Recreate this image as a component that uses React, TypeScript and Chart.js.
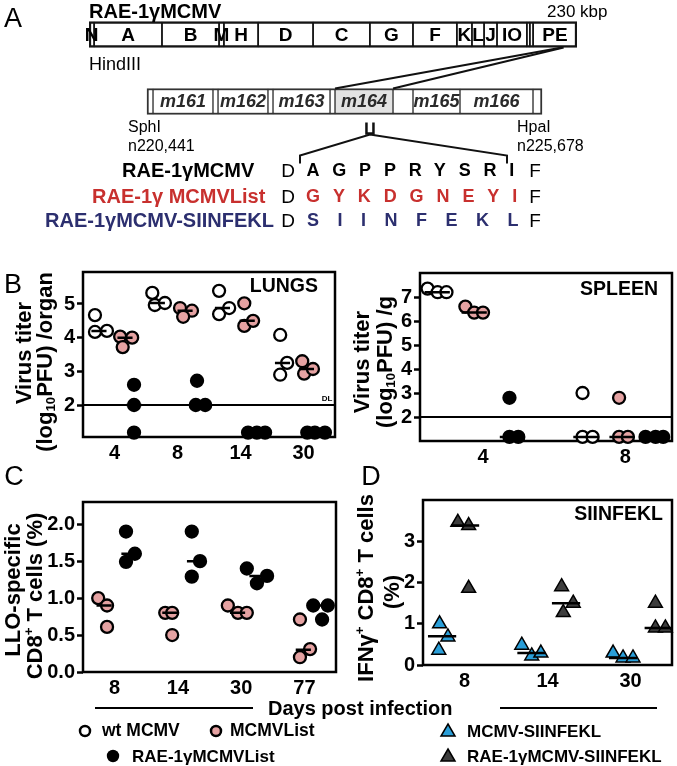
import React, { useEffect, useRef } from 'react';
import { Chart, registerables } from 'chart.js';
Chart.register(...registerables);

const FONT = '"Liberation Sans", Arial, Helvetica, sans-serif';
const PINK = '#e5a2a2';
const BLUE = '#2a9ed8';
const DARK = '#3d3d3d';
const RED = '#c8302e';
const NAVY = '#2c2f6f';

// ---------------- Panel A data ----------------
const hindIIILabels = ['N', 'A', 'B', 'M', 'H', 'D', 'C', 'G', 'F', 'K', 'L', 'J', 'IO', '', '', 'PE'];
const hindIIIBounds = [0, 2.4, 34.4, 61.3, 63.6, 79.7, 105.6, 132.4, 152.7, 173.4, 180.5, 186.2, 192.3, 206.4, 207.8, 209.3, 230];
const geneLabels = ['', 'm161', '', 'm162', '', 'm163', '', 'm164', '', 'm165', 'm166', ''];
const geneBounds = [220.441, 220.521, 221.316, 221.383, 222.045, 222.112, 222.868, 222.934, 223.703, 223.968, 224.591, 225.559, 225.678];
const highlightedGene = 'm164';
const insertionSite = 223.397;

const seqNames = ['RAE-1γMCMV', 'RAE-1γ MCMVList', 'RAE-1γMCMV-SIINFEKL'];
const seqInserts = ['AGPPRYSRI', 'GYKDGNEYI', 'SIINFEKL'];
const seqFlankLeft = 'D';
const seqFlankRight = 'F';

// ---------------- Panel B: LUNGS ----------------
const lungsDays = ['4', '8', '14', '30'];
const lungsTicks = [2, 3, 4, 5];
const lungsWt = [[4.67, 4.17, 4.2], [5.33, 4.97, 5.03], [5.39, 4.7, 4.88], [4.08, 2.9, 3.25]];
const lungsWtX = [[-0.31, -0.31, -0.12], [-0.4, -0.36, -0.2], [-0.34, -0.34, -0.18], [-0.37, -0.37, -0.26]];
const lungsWtMed = [4.2, 5.03, 4.88, 3.25];
const lungsList = [[4.03, 4.0, 3.72], [4.88, 4.8, 4.62], [5.02, 4.35, 4.5], [3.3, 2.93, 3.07]];
const lungsListX = [[0.09, 0.28, 0.13], [0.04, 0.23, 0.09], [0.06, 0.06, 0.2], [-0.02, 0.01, 0.15]];
const lungsListMed = [4.0, 4.8, 4.5, 3.07];
const lungsRae = [[2.6, 2.0, 1.18], [2.72, 2.0, 2.0], [1.18, 1.18, 1.18], [1.18, 1.18, 1.18]];
const lungsRaeX = [[0.31, 0.31, 0.31], [0.31, 0.29, 0.44], [0.12, 0.26, 0.39], [0.06, 0.18, 0.34]];
const lungsRaeMed = [2.0, 2.0, 1.18, 1.18];

// ---------------- Panel B: SPLEEN ----------------
const spleenDays = ['4', '8'];
const spleenTicks = [2, 3, 4, 5, 6, 7];
const spleenWt = [[7.35, 7.2, 7.2], [3.0, 1.17, 1.17]];
const spleenWtX = [[-0.44, -0.36, -0.29], [-0.21, -0.21, -0.13]];
const spleenWtMed = [7.2, 1.17];
const spleenList = [[6.6, 6.35, 6.35], [2.8, 1.17, 1.17]];
const spleenListX = [[-0.14, -0.07, 0.0], [0.08, 0.08, 0.15]];
const spleenListMed = [6.35, 1.17];
const spleenRae = [[2.8, 1.17, 1.17], [1.17, 1.17, 1.17]];
const spleenRaeX = [[0.21, 0.21, 0.28], [0.29, 0.37, 0.43]];
const spleenRaeMed = [1.17, 1.17];

// ---------------- Panel C ----------------
const cDays = ['8', '14', '30', '77'];
const cTicks = [0, 0.5, 1, 1.5, 2];
const cTickLabels = ['0.0', '0.5', '1.0', '1.5', '2.0'];
const cList = [[1.0, 0.9, 0.61], [0.8, 0.8, 0.5], [0.9, 0.8, 0.8], [0.71, 0.31, 0.2]];
const cListX = [[-0.26, -0.12, -0.12], [-0.2, -0.09, -0.09], [-0.21, -0.05, 0.09], [-0.07, 0.09, -0.07]];
const cListMed = [0.9, 0.8, 0.8, 0.3];
const cRae = [[1.9, 1.6, 1.49], [1.9, 1.5, 1.29], [1.4, 1.2, 1.3], [0.9, 0.9, 0.71]];
const cRaeX = [[0.18, 0.32, 0.18], [0.22, 0.35, 0.22], [0.09, 0.25, 0.41], [0.14, 0.37, 0.28]];
const cRaeMed = [1.6, 1.5, 1.3, 0.9];

// ---------------- Panel D ----------------
const dDays = ['8', '14', '30'];
const dTicks = [0, 1, 2, 3];
const dMcmv = [[1.0, 0.68, 0.36], [0.48, 0.22, 0.29], [0.29, 0.17, 0.17]];
const dMcmvX = [[-0.3, -0.2, -0.31], [-0.31, -0.19, -0.08], [-0.21, -0.09, 0.03]];
const dMcmvMed = [0.7, 0.29, 0.17];
const dRae = [[3.46, 3.38, 1.86], [1.9, 1.5, 1.27], [1.5, 0.9, 0.9]];
const dRaeX = [[-0.08, 0.05, 0.05], [0.17, 0.31, 0.19], [0.3, 0.3, 0.42]];
const dRaeMed = [3.38, 1.5, 0.9];

// ---------------- Chart builders ----------------
const mapPlugin = {
  id: 'mapLabels',
  afterDatasetsDraw(chart: any) {
    const ctx = chart.ctx;
    const g = chart.getDatasetMeta(0);
    const m = chart.getDatasetMeta(1);
    ctx.save();
    ctx.textAlign = 'center';
    ctx.textBaseline = 'middle';
    ctx.fillStyle = '#000';
    ctx.font = `bold 19px ${FONT}`;
    g.data.forEach((el: any, i: number) => {
      const p = el.getProps(['x', 'base', 'y'], true);
      if (hindIIILabels[i]) ctx.fillText(hindIIILabels[i], (p.x + p.base) / 2, p.y + 1);
    });
    ctx.font = `italic bold 18px ${FONT}`;
    ctx.fillStyle = '#2a2a2a';
    m.data.forEach((el: any, i: number) => {
      const p = el.getProps(['x', 'base', 'y'], true);
      if (geneLabels[i]) ctx.fillText(geneLabels[i], (p.x + p.base) / 2, p.y + 1);
    });
    // zoom lines
    const xs = chart.scales.x;
    const x2 = chart.scales.x2;
    const gp = g.data[0].getProps(['y', 'height'], true);
    const mp = m.data[0].getProps(['y', 'height'], true);
    const gBottom = gp.y + gp.height / 2;
    const mTop = mp.y - mp.height / 2;
    const mBottom = mp.y + mp.height / 2;
    const hi = geneLabels.indexOf(highlightedGene);
    ctx.strokeStyle = '#111';
    ctx.lineWidth = 2;
    [geneBounds[hi], geneBounds[hi + 1]].forEach((v) => {
      ctx.beginPath();
      ctx.moveTo(xs.getPixelForValue(v), gBottom);
      ctx.lineTo(x2.getPixelForValue(v), mTop);
      ctx.stroke();
    });
    // insertion marker and bracket
    const ix = x2.getPixelForValue(insertionSite);
    ctx.lineWidth = 2.5;
    ctx.beginPath();
    ctx.moveTo(ix - 3.5, mBottom + 8);
    ctx.lineTo(ix - 3.5, mBottom + 19);
    ctx.lineTo(ix + 3.5, mBottom + 19);
    ctx.lineTo(ix + 3.5, mBottom + 8);
    ctx.stroke();
    ctx.lineWidth = 2;
    const apexY = mBottom + 20;
    const endY = mBottom + 41;
    ctx.beginPath();
    ctx.moveTo(300, endY + 8);
    ctx.lineTo(300, endY);
    ctx.lineTo(ix, apexY);
    ctx.lineTo(507, endY);
    ctx.lineTo(507, endY + 8);
    ctx.stroke();
    ctx.restore();
  },
};

function mapConfig(): any {
  const genomeData = hindIIILabels.map((_, i) => ({ x: [hindIIIBounds[i], hindIIIBounds[i + 1]], y: 'genome' }));
  const geneData = geneLabels.map((_, i) => ({ x: [geneBounds[i], geneBounds[i + 1]], y: 'genes' }));
  const nG = genomeData.length;
  const nM = geneData.length;
  return {
    type: 'bar',
    data: {
      labels: ['genome', 'genes'],
      datasets: [
        {
          data: genomeData,
          xAxisID: 'x',
          backgroundColor: '#fff',
          borderColor: '#151515',
          borderWidth: (c: any) => ({ top: 2.5, bottom: 2.5, left: c.dataIndex === 0 ? 2.5 : 1.25, right: c.dataIndex === nG - 1 ? 2.5 : 1.25 }),
          borderSkipped: false,
          barThickness: 26,
          grouped: false,
        },
        {
          data: geneData,
          xAxisID: 'x2',
          backgroundColor: geneLabels.map((l) => (l === highlightedGene ? '#e3e3e3' : '#fff')),
          borderColor: '#333',
          borderWidth: (c: any) => ({ top: 2, bottom: 2, left: c.dataIndex === 0 ? 2 : 1, right: c.dataIndex === nM - 1 ? 2 : 1 }),
          borderSkipped: false,
          barThickness: 26,
          grouped: false,
        },
      ],
    },
    options: {
      indexAxis: 'y',
      responsive: false,
      animation: false,
      events: [],
      layout: { padding: { left: 89, right: 100, top: 1, bottom: 35 }, autoPadding: false },
      plugins: { legend: { display: false }, tooltip: { enabled: false } },
      scales: {
        y: { type: 'category', display: false, offset: true },
        x: { type: 'linear', min: 0, max: 230, display: false },
        x2: { type: 'linear', axis: 'x', min: 219.672, max: 226.142, display: false },
      },
    },
    plugins: [mapPlugin],
  };
}

type Series = { vals: number[][]; xs: number[][]; meds: number[]; fill: string; shape: string; radius: number; bw: number };
type Panel = {
  groups: string[];
  tickShift?: number[];
  series: Series[];
  yMin: number;
  yMax: number;
  yTicks: number[];
  yTickLabels?: string[];
  dl?: number;
  dlText?: string;
  label: string;
  labelDx: number;
  labelDy: number;
  medHalf: number;
  pad: { left: number; right: number; top: number; bottom: number };
};

function scatterConfig(p: Panel): any {
  const n = p.groups.length;
  const datasets: any[] = [];
  p.series.forEach((s) => {
    const data: any[] = [];
    s.meds.forEach((m, g) => {
      const c = g + s.xs[g].reduce((a, b) => a + b, 0) / s.xs[g].length;
      data.push({ x: c - p.medHalf, y: m }, { x: c + p.medHalf, y: m }, { x: c, y: null });
    });
    datasets.push({ type: 'line', data, borderColor: '#000', borderWidth: 2.5, pointRadius: 0, spanGaps: false, clip: false, fill: false });
  });
  [...p.series].reverse().forEach((s) => {
    const data: any[] = [];
    s.vals.forEach((arr, g) => arr.forEach((v, i) => data.push({ x: g + s.xs[g][i], y: v })));
    datasets.push({
      type: 'scatter',
      data,
      pointStyle: s.shape,
      pointRadius: s.radius,
      pointBackgroundColor: s.fill,
      pointBorderColor: '#000',
      pointBorderWidth: s.bw,
      showLine: false,
      clip: false,
    });
  });
  if (p.dl != null) {
    datasets.push({ type: 'line', data: [{ x: -0.5, y: p.dl }, { x: n - 0.5, y: p.dl }], borderColor: '#000', borderWidth: 2, pointRadius: 0, clip: false, fill: false });
  }
  const framePlugin = {
    id: 'frame',
    beforeDatasetsDraw(chart: any) {
      const { ctx, chartArea: a } = chart;
      ctx.save();
      ctx.lineWidth = 2.5;
      ctx.strokeStyle = '#000';
      ctx.strokeRect(a.left, a.top, a.right - a.left, a.bottom - a.top);
      ctx.restore();
    },
    afterDatasetsDraw(chart: any) {
      const { ctx, chartArea: a } = chart;
      ctx.save();
      ctx.fillStyle = '#000';
      ctx.font = `bold 19.5px ${FONT}`;
      ctx.textAlign = 'right';
      ctx.textBaseline = 'middle';
      ctx.fillText(p.label, a.right - p.labelDx, a.top + p.labelDy);
      if (p.dlText && p.dl != null) {
        ctx.font = `bold 8px ${FONT}`;
        ctx.textAlign = 'center';
        ctx.textBaseline = 'bottom';
        ctx.fillText(p.dlText, a.right - 8, chart.scales.y.getPixelForValue(p.dl) - 2);
      }
      ctx.restore();
    },
  };
  const tickFont = { family: FONT, size: 20, weight: 'bold' };
  return {
    type: 'scatter',
    data: { datasets },
    options: {
      responsive: false,
      animation: false,
      events: [],
      layout: { padding: p.pad, autoPadding: false },
      plugins: { legend: { display: false }, tooltip: { enabled: false } },
      scales: {
        x: {
          type: 'linear',
          min: -0.5,
          max: n - 0.5,
          bounds: 'data',
          afterBuildTicks: (s: any) => {
            s.ticks = p.groups.map((_, i) => ({ value: i + (p.tickShift ? p.tickShift[i] : 0) }));
          },
          afterFit: (s: any) => {
            s.height = 30;
          },
          ticks: { callback: (_v: any, i: number) => p.groups[i], font: tickFont, color: '#000', padding: 4, autoSkip: false, maxRotation: 0 },
          grid: { display: false, drawTicks: false },
          border: { display: false },
        },
        y: {
          type: 'linear',
          min: p.yMin,
          max: p.yMax,
          bounds: 'data',
          afterBuildTicks: (s: any) => {
            s.ticks = p.yTicks.map((v) => ({ value: v }));
          },
          afterFit: (s: any) => {
            s.width = 40;
          },
          ticks: {
            callback: (v: any, i: number) => (p.yTickLabels ? p.yTickLabels[i] : String(p.yTicks[i])),
            font: tickFont,
            color: '#000',
            padding: 2,
            autoSkip: false,
          },
          grid: { display: true, drawOnChartArea: false, drawTicks: true, tickLength: 6, tickWidth: 2.5, tickColor: '#000' },
          border: { display: false },
        },
      },
    },
    plugins: [framePlugin],
  };
}

const lungsSpec: Panel = {
  groups: lungsDays,
  series: [
    { vals: lungsWt, xs: lungsWtX, meds: lungsWtMed, fill: '#fff', shape: 'circle', radius: 6, bw: 2.3 },
    { vals: lungsList, xs: lungsListX, meds: lungsListMed, fill: PINK, shape: 'circle', radius: 6, bw: 2.3 },
    { vals: lungsRae, xs: lungsRaeX, meds: lungsRaeMed, fill: '#000', shape: 'circle', radius: 6, bw: 2.3 },
  ],
  yMin: 1.05,
  yMax: 5.95,
  yTicks: lungsTicks,
  dl: 2,
  dlText: 'DL',
  label: 'LUNGS',
  labelDx: 17,
  labelDy: 15,
  medHalf: 0.12,
  pad: { left: 43, right: 10, top: 22, bottom: 3 },
};

const spleenSpec: Panel = {
  groups: spleenDays,
  tickShift: [0, 0.13],
  series: [
    { vals: spleenWt, xs: spleenWtX, meds: spleenWtMed, fill: '#fff', shape: 'circle', radius: 6, bw: 2.3 },
    { vals: spleenList, xs: spleenListX, meds: spleenListMed, fill: PINK, shape: 'circle', radius: 6, bw: 2.3 },
    { vals: spleenRae, xs: spleenRaeX, meds: spleenRaeMed, fill: '#000', shape: 'circle', radius: 6, bw: 2.3 },
  ],
  yMin: 1,
  yMax: 8,
  yTicks: spleenTicks,
  dl: 2,
  label: 'SPLEEN',
  labelDx: 14,
  labelDy: 17,
  medHalf: 0.1,
  pad: { left: 40, right: 5, top: 23, bottom: 4 },
};

const cSpec: Panel = {
  groups: cDays,
  series: [
    { vals: cList, xs: cListX, meds: cListMed, fill: PINK, shape: 'circle', radius: 6, bw: 2.3 },
    { vals: cRae, xs: cRaeX, meds: cRaeMed, fill: '#000', shape: 'circle', radius: 6, bw: 2.3 },
  ],
  yMin: 0,
  yMax: 2.3,
  yTicks: cTicks,
  yTickLabels: cTickLabels,
  label: '',
  labelDx: 0,
  labelDy: 0,
  medHalf: 0.12,
  pad: { left: 43, right: 9, top: 17, bottom: 3 },
};

const dSpec: Panel = {
  groups: dDays,
  series: [
    { vals: dMcmv, xs: dMcmvX, meds: dMcmvMed, fill: BLUE, shape: 'triangle', radius: 8, bw: 1.5 },
    { vals: dRae, xs: dRaeX, meds: dRaeMed, fill: DARK, shape: 'triangle', radius: 8, bw: 1.5 },
  ],
  yMin: 0,
  yMax: 4,
  yTicks: dTicks,
  label: 'SIINFEKL',
  labelDx: 9,
  labelDy: 15,
  medHalf: 0.17,
  pad: { left: 43, right: 5, top: 15, bottom: 10 },
};

// ---------------- HTML helpers ----------------
function T(props: any) {
  const { x, y, size, weight = 'bold', color = '#000', align = 'left', style = {}, children, italic } = props;
  const tx = align === 'left' ? '0' : align === 'center' ? '-50%' : '-100%';
  return (
    <div
      style={{
        position: 'absolute',
        left: x,
        top: y,
        transform: `translate(${tx},-50%)`,
        font: `${italic ? 'italic ' : ''}${weight} ${size}px ${FONT}`,
        color,
        whiteSpace: 'nowrap',
        lineHeight: 1,
        ...style,
      }}
    >
      {children}
    </div>
  );
}

function V(props: any) {
  const { x, y, size = 22, children } = props;
  return (
    <div
      style={{
        position: 'absolute',
        left: x,
        top: y,
        transform: 'translate(-50%,-50%) rotate(-90deg)',
        font: `bold ${size}px ${FONT}`,
        whiteSpace: 'nowrap',
        lineHeight: 1,
        color: '#000',
      }}
    >
      {children}
    </div>
  );
}

const supStyle: any = { fontSize: '0.6em', verticalAlign: '0.7em', lineHeight: 0 };
const subStyle: any = { fontSize: '0.6em', verticalAlign: '-0.25em', lineHeight: 0 };

export default function App() {
  const refA = useRef<HTMLCanvasElement>(null);
  const refL = useRef<HTMLCanvasElement>(null);
  const refS = useRef<HTMLCanvasElement>(null);
  const refC = useRef<HTMLCanvasElement>(null);
  const refD = useRef<HTMLCanvasElement>(null);

  useEffect(() => {
    const charts = [
      new Chart(refA.current as any, mapConfig()),
      new Chart(refL.current as any, scatterConfig(lungsSpec)),
      new Chart(refS.current as any, scatterConfig(spleenSpec)),
      new Chart(refC.current as any, scatterConfig(cSpec)),
      new Chart(refD.current as any, scatterConfig(dSpec)),
    ];
    return () => charts.forEach((c) => c.destroy());
  }, []);

  const seqColors = ['#000', RED, NAVY];
  const seqY = [170, 196, 220];
  const seqLeft = [122, 92, 45];
  const insLeft = [306.5, 306, 307];
  const insSpacing = [12.8, 12.9, 18.5];

  return (
    <div style={{ position: 'absolute', left: 0, top: 0, width: 677, height: 766, background: '#fff', overflow: 'hidden', fontFamily: FONT, color: '#000' }}>
      <canvas ref={refA} width={677} height={170} style={{ position: 'absolute', left: 0, top: 0, width: 677, height: 170 }} />
      <canvas ref={refL} width={345} height={220} style={{ position: 'absolute', left: 0, top: 250, width: 345, height: 220 }} />
      <canvas ref={refS} width={337} height={225} style={{ position: 'absolute', left: 340, top: 250, width: 337, height: 225 }} />
      <canvas ref={refC} width={345} height={220} style={{ position: 'absolute', left: 0, top: 485, width: 345, height: 220 }} />
      <canvas ref={refD} width={337} height={220} style={{ position: 'absolute', left: 340, top: 485, width: 337, height: 220 }} />

      {/* Panel A texts */}
      <T x={13} y={18} size={27} weight="normal" align="center">A</T>
      <T x={89} y={11} size={20}>RAE-1γMCMV</T>
      <T x={547} y={11} size={17} weight="normal">230 kbp</T>
      <T x={89} y={64} size={18} weight="normal">HindIII</T>
      <T x={128} y={127} size={16} weight="normal">SphI</T>
      <T x={128} y={146} size={16} weight="normal">n220,441</T>
      <T x={517} y={127} size={16} weight="normal">HpaI</T>
      <T x={517} y={146} size={16} weight="normal">n225,678</T>
      {seqNames.map((name, i) => (
        <React.Fragment key={name}>
          <T x={seqLeft[i]} y={seqY[i]} size={20} color={seqColors[i]}>{name}</T>
          <T x={288} y={seqY[i]} size={19} weight="normal" align="center">{seqFlankLeft}</T>
          <T x={insLeft[i]} y={seqY[i]} size={18} color={seqColors[i]} style={{ letterSpacing: insSpacing[i] }}>{seqInserts[i]}</T>
          <T x={535} y={seqY[i]} size={19} weight="normal" align="center">{seqFlankRight}</T>
        </React.Fragment>
      ))}

      {/* Panel B */}
      <T x={13} y={284} size={27} weight="normal" align="center">B</T>
      <V x={24} y={353}>Virus titer</V>
      <V x={45} y={362}>(log<span style={subStyle}>10</span>PFU) /organ</V>
      <V x={362} y={362}>Virus titer</V>
      <V x={385} y={362}>(log<span style={subStyle}>10</span>PFU) /g</V>

      {/* Panel C / D */}
      <T x={14} y={476} size={27} weight="normal" align="center">C</T>
      <T x={371} y={476} size={27} weight="normal" align="center">D</T>
      <V x={13} y={590}>LLO-specific</V>
      <V x={35} y={596}>CD8<span style={supStyle}>+</span> T cells (%)</V>
      <V x={366} y={588}>IFNγ<span style={supStyle}>+</span> CD8<span style={supStyle}>+</span> T cells</V>
      <V x={392} y={592}>(%)</V>

      {/* Days post infection + legend */}
      <T x={268} y={708} size={20}>Days post infection</T>
      <svg width={677} height={766} style={{ position: 'absolute', left: 0, top: 0, pointerEvents: 'none' }}>
        <line x1={95} y1={708} x2={253} y2={708} stroke="#000" strokeWidth={2} />
        <line x1={500} y1={708} x2={657} y2={708} stroke="#000" strokeWidth={2} />
        <circle cx={85} cy={731} r={5} fill="#fff" stroke="#000" strokeWidth={2.5} />
        <circle cx={216} cy={731} r={5} fill={PINK} stroke="#000" strokeWidth={2.5} />
        <circle cx={113} cy={756} r={6.2} fill="#000" />
        <polygon points="448,724 455,736 441,736" fill={BLUE} stroke="#000" strokeWidth={1.5} />
        <polygon points="448,749 455,761 441,761" fill={DARK} stroke="#000" strokeWidth={1.5} />
      </svg>
      <T x={102} y={731} size={17.5}>wt MCMV</T>
      <T x={230} y={731} size={17.5}>MCMVList</T>
      <T x={132} y={756} size={17}>RAE-1γMCMVList</T>
      <T x={467} y={731} size={17}>MCMV-SIINFEKL</T>
      <T x={467} y={756} size={17}>RAE-1γMCMV-SIINFEKL</T>
    </div>
  );
}
